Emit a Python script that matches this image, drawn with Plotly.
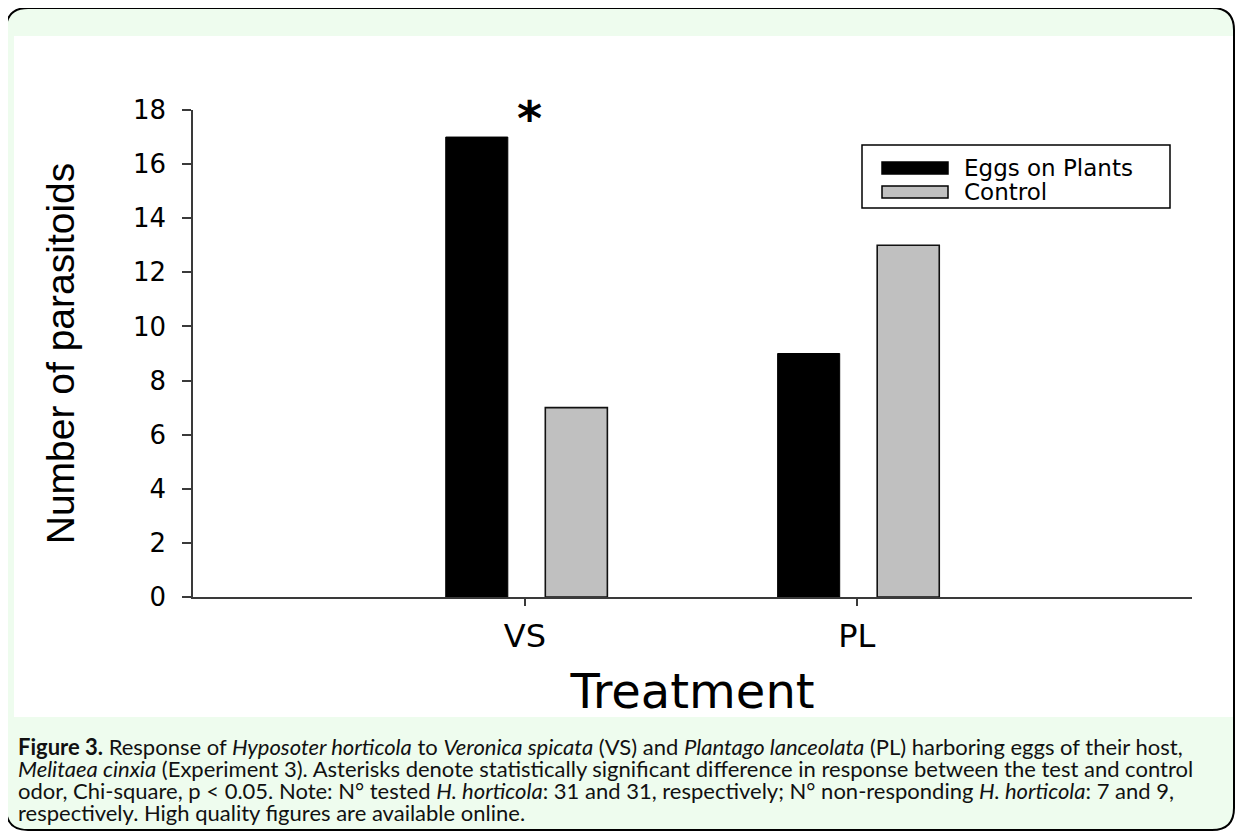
import plotly.graph_objects as go

# ---- data ----
categories = ["VS", "PL"]
series_names = ["Eggs on Plants", "Control"]
eggs_on_plants = [17, 9]
control = [7, 13]
y_ticks = [0, 2, 4, 6, 8, 10, 12, 14, 16, 18]
significant = ["VS"]

# ---- geometry helpers (target pixel -> paper) ----
OFF = 8  # page body margin of the viewer
W, H = 1244 - 2 * OFF, 840 - 2 * OFF
L, R, T, B = 193, 1192, 110, 597  # plot area in target-pixel coordinates


def px(x):
    return (x - L) / (R - L)


def py(y):
    return (B - y) / (B - T)


def rounded_rect(x0, y0, x1, y1, r):
    rx = r / (R - L)
    ry = r / (B - T)
    X0, X1 = px(x0), px(x1)
    Y0, Y1 = py(y0), py(y1)
    return (f"M {X0 + rx},{Y0} L {X1 - rx},{Y0} Q {X1},{Y0} {X1},{Y0 - ry} "
            f"L {X1},{Y1 + ry} Q {X1},{Y1} {X1 - rx},{Y1} "
            f"L {X0 + rx},{Y1} Q {X0},{Y1} {X0},{Y1 + ry} "
            f"L {X0},{Y0 - ry} Q {X0},{Y0} {X0 + rx},{Y0} Z")


fig = go.Figure()
fig.add_trace(go.Bar(
    x=categories, y=eggs_on_plants, name=series_names[0],
    marker=dict(color="#000000", line=dict(color="#000000", width=1)),
    width=0.187, offset=-0.2385, showlegend=False,
))
fig.add_trace(go.Bar(
    x=categories, y=control, name=series_names[1],
    marker=dict(color="#c0c0c0", line=dict(color="#111111", width=1.6)),
    width=0.187, offset=0.0615, showlegend=False,
))

shapes = []
shapes.append(dict(type="path", xref="paper", yref="paper", layer="below",
                   path=rounded_rect(6, 8, 1234, 830, 22),
                   fillcolor="#eefcee", line=dict(color="#000000", width=2)))
shapes.append(dict(type="rect", xref="paper", yref="paper", layer="below",
                   x0=px(14), x1=px(1233), y0=py(36), y1=py(717),
                   fillcolor="#ffffff", line=dict(width=0)))
# small extension of the x axis line left of the y axis
shapes.append(dict(type="line", xref="paper", yref="paper",
                   x0=px(187), x1=px(193), y0=0, y1=0,
                   line=dict(color="#3a3a3a", width=1.5)))
# legend box
lg_x0, lg_x1, lg_y0, lg_y1 = 862, 1170, 145, 208
shapes.append(dict(type="rect", xref="paper", yref="paper",
                   x0=px(lg_x0), x1=px(lg_x1), y0=py(lg_y0), y1=py(lg_y1),
                   fillcolor="#ffffff", line=dict(color="#000000", width=1.5)))
legend_colors = ["#000000", "#c0c0c0"]
legend_rows = [168, 192]
annotations = []
for name, col, yc in zip(series_names, legend_colors, legend_rows):
    shapes.append(dict(type="rect", xref="paper", yref="paper",
                       x0=px(882), x1=px(948), y0=py(yc - 6), y1=py(yc + 6),
                       fillcolor=col, line=dict(color="#000000", width=1.5)))
    annotations.append(dict(xref="paper", yref="paper", x=px(962), y=py(yc),
                            xanchor="left", yanchor="middle", showarrow=False,
                            text=name,
                            font=dict(family="DejaVu Sans", size=23, color="#000000")))

for cat in significant:
    annotations.append(dict(x=cat, y=17, xref="x", yref="y", showarrow=False,
                            text="*", yanchor="bottom", yshift=-11, xshift=5,
                            font=dict(family="DejaVu Sans", size=48, weight="bold",
                                      color="#000000")))

cap_font = dict(family="Lato", size=22, color="#111111")
caption_lines = [
    "<b>Figure 3.</b> Response of <i>Hyposoter horticola</i> to <i>Veronica spicata</i> (VS) and "
    "<i>Plantago lanceolata</i> (PL) harboring eggs of their host,",
    "<i>Melitaea cinxia</i> (Experiment 3). Asterisks denote statistically significant difference "
    "in response between the test and control",
    "odor, Chi-square, p &lt; 0.05. Note: N° tested <i>H. horticola</i>: 31 and 31, respectively; "
    "N° non-responding <i>H. horticola</i>: 7 and 9,",
    "respectively. High quality figures are available online.",
]
for i, line in enumerate(caption_lines):
    annotations.append(dict(xref="paper", yref="paper", x=px(16), y=py(746 + 22 * i),
                            xanchor="left", yanchor="middle", showarrow=False,
                            text=line, font=cap_font, align="left"))

fig.update_layout(
    width=W, height=H,
    margin=dict(l=L - OFF, r=OFF + W - R, t=T - OFF, b=OFF + H - B, autoexpand=False),
    paper_bgcolor="#ffffff", plot_bgcolor="rgba(0,0,0,0)",
    barmode="group",
    shapes=shapes, annotations=annotations,
    xaxis=dict(
        range=[-1.0, 2.01], showgrid=False, zeroline=False,
        showline=True, linecolor="#3a3a3a", linewidth=1.5,
        ticks="outside", ticklen=7, tickwidth=1.5, tickcolor="#3a3a3a",
        tickfont=dict(family="DejaVu Sans", size=32, color="#000000"),
        ticklabelstandoff=3,
        title=dict(text="Treatment", standoff=20,
                   font=dict(family="DejaVu Sans", size=48, color="#000000")),
    ),
    yaxis=dict(
        range=[0, 18], tickvals=y_ticks, showgrid=False, zeroline=False,
        showline=True, linecolor="#3a3a3a", linewidth=1.5,
        ticks="outside", ticklen=9, tickwidth=1.5, tickcolor="#3a3a3a",
        tickfont=dict(family="DejaVu Sans", size=26, color="#000000"),
        ticklabelstandoff=11,
        title=dict(text="Number of parasitoids", standoff=46,
                   font=dict(family="Liberation Sans", size=39, color="#000000")),
    ),
)

fig.write_html("out.html")
